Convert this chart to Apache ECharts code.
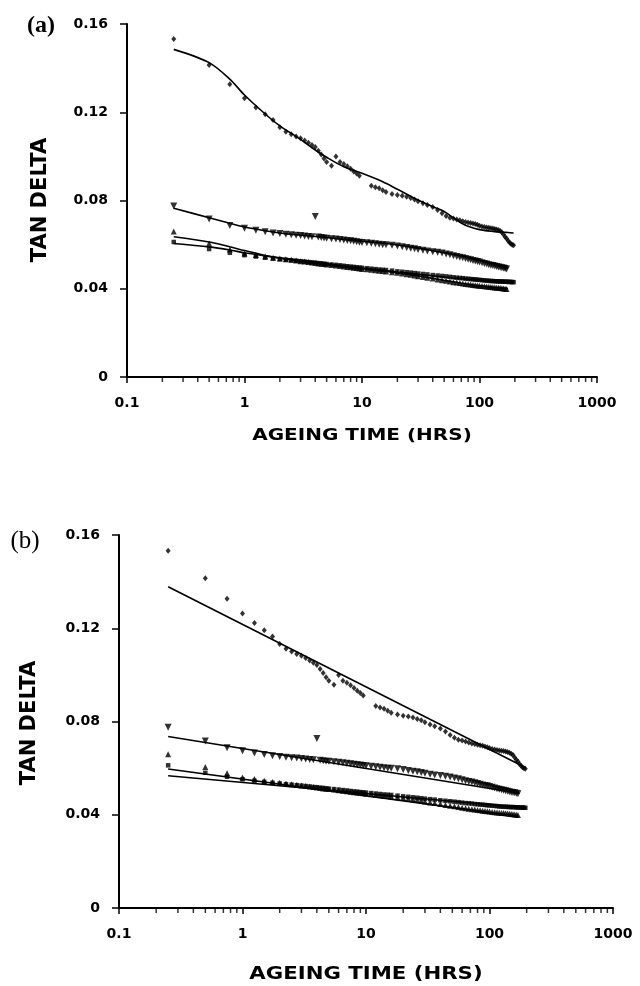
<!DOCTYPE html>
<html><head><meta charset="utf-8">
<script src="https://cdn.jsdelivr.net/npm/echarts@6/dist/echarts.min.js"></script>
<style>html,body{margin:0;padding:0;background:#fff}#c{width:640px;height:986px}</style>
</head><body><div id="c"></div><script>
// ageing time (hrs) of the measured points
const T = [
  0.25,0.5,0.75,1,1.25,1.5,1.75,2,2.25,2.5,
  2.75,3,3.25,3.5,3.75,4,4.25,4.5,4.75,5,
  5.5,6,6.5,7,7.5,8,8.5,9,9.5,10,
  11,12,13,14,15,16,18,20,22,24,
  26,28,30,33,36,40,44,48,52,56,
  60,64,68,72,76,80,84,88,92,96,
  100,105,110,115,120,125,130,135,140,145,
  150,155,160,165,170,175,180,185,190,195];
const diamondVals = [
  .1532,.1414,.1327,.1263,.1222,.1191,.1165,.1132,.1112,.1100,
  .1090,.1082,.1072,.1062,.1052,.1042,.1025,.1008,.0990,.0975,
  .0958,.0999,.0975,.0966,.0955,.0944,.0932,.0922,.0912,null,
  null,.0867,.0860,.0855,.0846,.0838,.0830,.0825,.0821,.0817,
  .0811,.0805,.0797,.0787,.0780,.0770,.0757,.0742,.0730,.0722,
  .0718,.0714,.0710,.0706,.0703,.0700,.0698,.0696,.0693,.0690,
  .0686,.0682,.0680,.0678,.0676,.0674,.0673,.0671,.0669,.0666,
  .0662,.0656,.0646,.0636,.0628,.0618,.0610,.0604,.0600,.0597];
const downTriVals = [
  .0775,.0716,.0687,.0674,.0665,.0658,.0653,.0650,.0647,.0645,
  .0643,.0641,.0639,.0637,.0636,.0727,.0634,.0632,.0630,.0629,
  .0627,.0625,.0623,.0621,.0619,.0617,.0615,.0613,.0611,.0610,
  .0608,.0606,.0604,.0602,.0600,.0599,.0597,.0594,.0590,.0587,
  .0584,.0581,.0578,.0574,.0571,.0568,.0565,.0562,.0558,.0554,
  .0550,.0546,.0543,.0540,.0537,.0534,.0531,.0528,.0526,.0524,
  .0521,.0518,.0515,.0512,.0509,.0507,.0505,.0503,.0501,.0499,
  .0497,.0495,.0494,.0492,.0490,null,null,null,null,null];
const upTriVals = [
  .0660,.0605,.0578,.0560,.0553,.0546,.0541,.0537,.0534,.0531,
  .0528,.0525,.0523,.0521,.0519,.0517,.0515,.0513,.0512,.0510,
  .0508,.0505,.0503,.0501,.0499,.0497,.0495,.0494,.0492,.0490,
  .0488,.0486,.0484,.0482,.0480,.0478,.0475,.0472,.0469,.0466,
  .0463,.0460,.0457,.0453,.0450,.0446,.0442,.0439,.0436,.0433,
  .0430,.0428,.0426,.0424,.0422,.0420,.0419,.0417,.0416,.0415,
  .0414,.0412,.0411,.0410,.0409,.0408,.0407,.0406,.0405,.0404,
  .0403,.0402,.0401,.0400,.0399,null,null,null,null,null];
const squareVals = [
  .0612,.0580,.0563,.0552,.0546,.0541,.0537,.0534,.0531,.0529,
  .0527,.0525,.0523,.0521,.0519,.0518,.0516,.0515,.0513,.0512,
  .0510,.0508,.0506,.0504,.0502,.0500,.0499,.0497,.0496,.0495,
  .0493,.0491,.0489,.0487,.0486,.0485,.0482,.0479,.0477,.0475,
  .0473,.0471,.0469,.0467,.0465,.0462,.0460,.0458,.0456,.0454,
  .0452,.0450,.0449,.0448,.0446,.0445,.0444,.0443,.0442,.0441,
  .0440,.0439,.0438,.0437,.0436,.0435,.0435,.0434,.0434,.0433,
  .0433,.0433,.0432,.0432,.0432,.0431,.0431,.0431,.0430,.0430];

// panel (a): curve fits
const FIT_T = [0.25,0.5,0.75,1,1.5,2,3,4,5,7,10,15,20,30,40,50,60,70,80,100,130,160,175,195];
const fitA_diamond = [.1485,.1425,.1350,.1278,.1192,.1138,.1077,.1029,.0996,.0953,.0923,.0885,.0851,.0802,.0772,.0750,.0722,.0698,.0683,.0668,.0660,.0656,.0655,.0653];
const fitA_downTri = [.0765,.0722,.0697,.0680,.0663,.0653,.0643,.0637,.0632,.0624,.0615,.0606,.0598,.0584,.0572,.0563,.0555,.0548,.0542,.0530,.0514,.0500,.0494,null];
const fitA_upTri   = [.0636,.0612,.0590,.0573,.0551,.0538,.0524,.0516,.0509,.0500,.0491,.0481,.0472,.0458,.0447,.0438,.0431,.0425,.0420,.0413,.0407,.0403,.0401,null];
const fitA_square  = [.0605,.0590,.0576,.0563,.0549,.0540,.0529,.0521,.0514,.0504,.0494,.0484,.0476,.0466,.0459,.0453,.0449,.0446,.0443,.0439,.0435,.0433,.0432,.0431];

// panel (b): straight-line (log time) fits, end points
const fitB_diamond_T = [0.25,195], fitB_diamond = [.1378,.0603];
const fitB_downTri_T = [0.25,175], fitB_downTri = [.0736,.0492];
const fitB_upTri_T   = [0.25,170], fitB_upTri   = [.0596,.0393];
const fitB_square_T  = [0.25,200], fitB_square  = [.0567,.0429];

const xTickLabels = ['0.1','1','10','100','1000'];
const yTickLabels = ['0','0.04','0.08','0.12','0.16'];
const minorMult = [2,3,4,5,6,7,8,9];
const minorDecades = [0.1,1,10,100];

function pts(xs, ys){ const o=[]; xs.forEach((x,i)=>{ if(ys[i]!=null) o.push([x,ys[i]]); }); return o; }
const minorData = [];
minorDecades.forEach(d=>minorMult.forEach(m=>minorData.push([+(d*m).toPrecision(3),0])));

const FONT = 'DejaVu Sans';
const grids = [
  {left:127, top:24, width:470, height:353},
  {left:119, top:535, width:494, height:373}
];
function xAx(i){ return {
  type:'log', logBase:10, min:0.1, max:1000, gridIndex:i,
  axisLine:{show:true, onZero:false, lineStyle:{color:'#000', width:2}},
  axisTick:{show:true, inside:false, length:6, lineStyle:{color:'#000', width:1.5}},
  minorTick:{show:false}, splitLine:{show:false},
  axisLabel:{margin:19, color:'#000', fontFamily:FONT, fontWeight:'bold', fontSize:14,
    formatter:v=>xTickLabels[Math.round(Math.log10(v))+1]}
};}
function yAx(i){ return {
  type:'value', min:0, max:0.16, interval:0.04, gridIndex:i,
  axisLine:{show:true, onZero:false, lineStyle:{color:'#000', width:2}},
  axisTick:{show:true, inside:false, length:7, lineStyle:{color:'#000', width:1.5}},
  splitLine:{show:false},
  axisLabel:{margin:19, color:'#000', fontFamily:FONT, fontWeight:'bold', fontSize:14,
    formatter:v=>yTickLabels[Math.round(v/0.04)]}
};}
const series = [];
[0,1].forEach(p=>{
  const common = {type:'scatter', xAxisIndex:p, yAxisIndex:p, itemStyle:{color:'#000'}, silent:true};
  series.push(Object.assign({}, common, {symbol:'diamond', symbolSize:[5,6], data:pts(T,diamondVals)}));
  series.push(Object.assign({}, common, {symbol:'triangle', symbolRotate:180, symbolSize:7, data:pts(T,downTriVals)}));
  series.push(Object.assign({}, common, {symbol:'triangle', symbolSize:6, data:pts(T,upTriVals)}));
  series.push(Object.assign({}, common, {symbol:'rect', symbolSize:4.5, data:pts(T,squareVals)}));
  series.push({type:'scatter', xAxisIndex:p, yAxisIndex:p, symbol:'rect', symbolSize:[1.5,5], symbolOffset:[0,2.5],
    clip:false, silent:true, itemStyle:{color:'#000'}, data:minorData});
});
const lineStyle = {color:'#000', width:1.6};
[fitA_diamond, fitA_downTri, fitA_upTri, fitA_square].forEach(f=>{
  series.push({type:'line', xAxisIndex:0, yAxisIndex:0, showSymbol:false, smooth:0.3, lineStyle, silent:true, data:pts(FIT_T,f)});
});
[[fitB_diamond_T,fitB_diamond],[fitB_downTri_T,fitB_downTri],[fitB_upTri_T,fitB_upTri],[fitB_square_T,fitB_square]].forEach(([xs,ys])=>{
  series.push({type:'line', xAxisIndex:1, yAxisIndex:1, showSymbol:false, lineStyle, silent:true, data:pts(xs,ys)});
});
function txt(text, x, y, font, opts){ return Object.assign({type:'text', x, y, silent:true,
  style:{text, font, fill:'#000', textAlign:'center', textVerticalAlign:'middle', align:'center', verticalAlign:'middle'}}, opts||{}); }
const chart = echarts.init(document.getElementById('c'), null, {renderer:'canvas'});
chart.setOption({
  animation:false, backgroundColor:'#fff',
  grid:grids, xAxis:[xAx(0),xAx(1)], yAxis:[yAx(0),yAx(1)], series,
  graphic:[
    txt('(a)', 41, 26, 'bold 24px "Liberation Serif"'),
    txt('(b)', 25, 541, '25px "Liberation Serif"'),
    txt('TAN DELTA', 41, 200, 'bold 21px "DejaVu Sans"', {rotation:Math.PI/2}),
    txt('TAN DELTA', 30, 723, 'bold 21px "DejaVu Sans"', {rotation:Math.PI/2}),
    txt('AGEING TIME (HRS)', 362, 436, 'bold 16px "DejaVu Sans"', {scaleX:1.25}),
    txt('AGEING TIME (HRS)', 366, 975, 'bold 17px "DejaVu Sans"', {scaleX:1.25})
  ]
});
</script></body></html>
